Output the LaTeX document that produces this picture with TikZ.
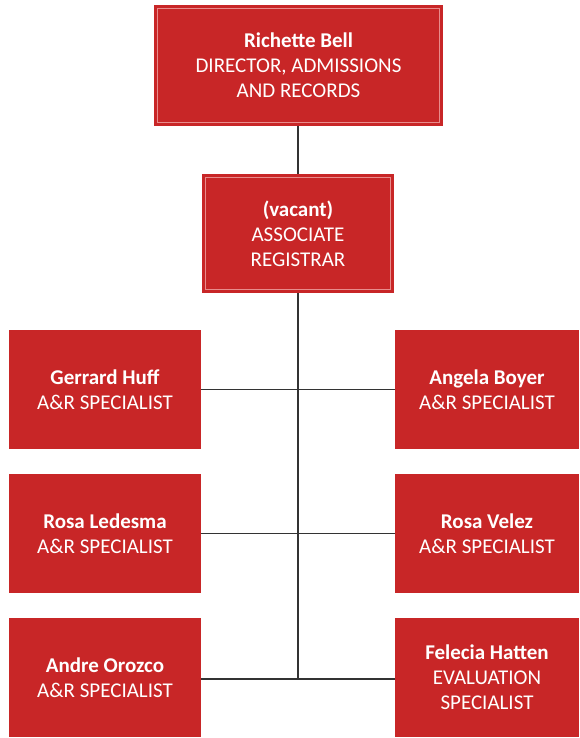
\documentclass[tikz,border=0pt]{standalone}
\usepackage{fontspec}
\setmainfont{Carlito}
\definecolor{boxred}{RGB}{200,38,39}
\definecolor{innerpink}{RGB}{232,140,140}
\tikzset{
  orgbox/.style={fill=boxred, draw=none, text=white, align=center,
    font=\fontsize{21pt}{25pt}\selectfont, inner sep=0pt, anchor=center},
  link/.style={draw=black!80, line width=1.3pt},
  innerline/.style={draw=innerpink, line width=0.8pt}
}
\begin{document}
\begin{tikzpicture}[x=1pt,y=-1pt]
\useasboundingbox (0,0) rectangle (579,738);
% top boxes
\node[orgbox, minimum width=289pt, minimum height=121pt] (dir) at (298.5,65.5)
  {\textbf{Richette Bell}\\DIRECTOR, ADMISSIONS\\AND RECORDS};
\draw[innerline] ([shift={(4pt,-4pt)}]dir.north west) rectangle ([shift={(-4pt,4pt)}]dir.south east);
\node[orgbox, minimum width=192pt, minimum height=119pt] (assoc) at (298,233.5)
  {\textbf{(vacant)}\\ASSOCIATE\\REGISTRAR};
\draw[innerline] ([shift={(4pt,-4pt)}]assoc.north west) rectangle ([shift={(-4pt,4pt)}]assoc.south east);
% left boxes
\node[orgbox, minimum width=192pt, minimum height=119pt] (huff) at (105,389.5)
  {\textbf{Gerrard Huff}\\A\&R SPECIALIST};
\node[orgbox, minimum width=192pt, minimum height=119pt] (ledesma) at (105,533.5)
  {\textbf{Rosa Ledesma}\\A\&R SPECIALIST};
\node[orgbox, minimum width=192pt, minimum height=119pt] (orozco) at (105,677.5)
  {\textbf{Andre Orozco}\\A\&R SPECIALIST};
% right boxes
\node[orgbox, minimum width=184pt, minimum height=119pt] (boyer) at (487,389.5)
  {\textbf{Angela Boyer}\\A\&R SPECIALIST};
\node[orgbox, minimum width=184pt, minimum height=119pt] (velez) at (487,533.5)
  {\textbf{Rosa Velez}\\A\&R SPECIALIST};
\node[orgbox, minimum width=184pt, minimum height=119pt] (hatten) at (487,677.5)
  {\textbf{Felecia Hatten}\\EVALUATION\\SPECIALIST};
% connectors
\coordinate (bot) at (298,679);
\draw[link] (dir.south -| assoc.north) -- (assoc.north);
\draw[link] (assoc.south) -- (bot);
\draw[link] (huff.east) -- (boyer.west);
\draw[link] (ledesma.east) -- (velez.west);
\draw[link] (orozco.east |- bot) -- (hatten.west |- bot);
\end{tikzpicture}
\end{document}
